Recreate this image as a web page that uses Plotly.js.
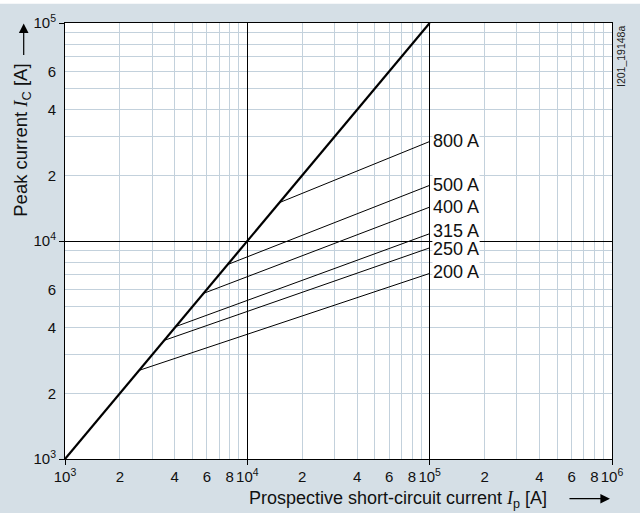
<!DOCTYPE html>
<html>
<head>
<meta charset="utf-8">
<script src="https://cdn.plot.ly/plotly-3.0.1.min.js"></script>
<style>html,body{margin:0;padding:0;background:#d5dfe6;}#chart{width:640px;height:513px;}</style>
</head>
<body>
<div id="chart"></div>
<script>
// ---- data ----
var diagIp = [1e3, 1e5];
var diagIc = [1e3, 1e5];
var ratings = ['800 A', '500 A', '400 A', '315 A', '250 A', '200 A'];
var cutStartIp = [15000, 7800, 5750, 4050, 3500, 2550];
var cutEndIp = [1e5, 1e5, 1e5, 1e5, 1e5, 1e5];
var cutEndIc = [28600, 18000, 14300, 10800, 9300, 7100];

var xTickVals = [1e3,2e3,3e3,4e3,5e3,6e3,7e3,8e3,9e3,1e4,2e4,3e4,4e4,5e4,6e4,7e4,8e4,9e4,1e5,2e5,3e5,4e5,5e5,6e5,7e5,8e5,9e5,1e6];
var xTickText = ['10<sup>3</sup>','2','','4','','6','','8','','10<sup>4</sup>','2','','4','','6','','8','','10<sup>5</sup>','2','','4','','6','','8','','10<sup>6</sup>'];
var yTickVals = [1e3,2e3,3e3,4e3,5e3,6e3,7e3,8e3,9e3,1e4,2e4,3e4,4e4,5e4,6e4,7e4,8e4,9e4,1e5];
var yTickText = ['10<sup>3</sup>','2','','4','','6','','','','10<sup>4</sup>','2','','4','','6','','','','10<sup>5</sup>'];
var xMajor = [1e3, 1e4, 1e5, 1e6];
var yMajor = [1e3, 1e4, 1e5];

var traces = [];
for (var i = 0; i < ratings.length; i++) {
  traces.push({
    type: 'scatter', mode: 'lines',
    x: [cutStartIp[i], cutEndIp[i]],
    y: [cutStartIp[i], cutEndIc[i]],
    line: {color: '#000', width: 1},
    hoverinfo: 'skip', showlegend: false
  });
}
traces.push({
  type: 'scatter', mode: 'lines', x: diagIp, y: diagIc,
  xaxis: 'x2', yaxis: 'y2',
  line: {color: '#000', width: 2.2}, hoverinfo: 'skip', showlegend: false
});

var labelShift = [1, 0, 0, 3, -1, 1];
var annotations = [];
for (var j = ratings.length - 1; j >= 0; j--) {
  annotations.push({
    xref: 'x', yref: 'y', x: Math.log10(cutEndIp[j]), y: Math.log10(cutEndIc[j]),
    text: ratings[j], showarrow: false, xanchor: 'left', yanchor: 'middle',
    xshift: 2, yshift: labelShift[j], bgcolor: '#ffffff', borderpad: 0,
    font: {family: 'Liberation Sans, Arial, sans-serif', size: 18, color: '#111'}
  });
}
var serifI = '<span style="font-family:\'Liberation Serif\',serif"><i>I</i></span>';
annotations.push({
  xref: 'paper', yref: 'paper', x: 0.609, y: -0.092,
  text: 'Prospective short-circuit current ' + serifI + '<sub>p</sub> [A]',
  showarrow: false, xanchor: 'center', yanchor: 'middle',
  font: {family: 'Liberation Sans, Arial, sans-serif', size: 18, color: '#111'}
});
annotations.push({
  xref: 'paper', yref: 'paper', x: -0.0786, y: 0.73, textangle: -90,
  text: 'Peak current ' + serifI + '<sub>C</sub> [A]',
  showarrow: false, xanchor: 'center', yanchor: 'middle',
  font: {family: 'Liberation Sans, Arial, sans-serif', size: 18.5, color: '#111'}
});
// arrows
annotations.push({
  xref: 'paper', yref: 'paper', x: 0.9963, y: -0.091, ax: -42, ay: 0,
  text: '', showarrow: true, arrowhead: 2, arrowsize: 1.6, arrowwidth: 1.2, arrowcolor: '#000'
});
annotations.push({
  xref: 'paper', yref: 'paper', x: -0.0755, y: 0.999, ax: 0, ay: 33,
  text: '', showarrow: true, arrowhead: 2, arrowsize: 1.6, arrowwidth: 1.2, arrowcolor: '#000'
});
annotations.push({
  xref: 'paper', yref: 'paper', x: 1.0164, y: 0.9242, textangle: -90,
  text: 'I201_19148a', showarrow: false, xanchor: 'center', yanchor: 'middle',
  font: {family: 'Liberation Sans, Arial, sans-serif', size: 10.5, color: '#222'}
});

var tickFont = {family: 'Liberation Sans, Arial, sans-serif', size: 15, color: '#111'};
var layout = {
  width: 640, height: 513,
  margin: {l: 65, r: 28, t: 23, b: 54},
  paper_bgcolor: '#d5dfe6', plot_bgcolor: '#ffffff',
  showlegend: false,
  xaxis: {
    type: 'log', range: [3, 6], tickmode: 'array', tickvals: xTickVals, ticktext: xTickText,
    ticks: '', showgrid: true, gridcolor: '#c3d1dc', gridwidth: 1, zeroline: false,
    showline: true, mirror: true, linecolor: '#000', linewidth: 1, tickfont: tickFont,
    tickangle: 0, ticklabelstandoff: 4
  },
  yaxis: {
    type: 'log', range: [3, 5], tickmode: 'array', tickvals: yTickVals, ticktext: yTickText,
    ticks: '', showgrid: true, gridcolor: '#c3d1dc', gridwidth: 1, zeroline: false,
    showline: true, mirror: true, linecolor: '#000', linewidth: 1, tickfont: tickFont,
    ticklabelstandoff: 5
  },
  xaxis2: {
    type: 'log', range: [3, 6], overlaying: 'x', anchor: 'y2', side: 'bottom',
    tickmode: 'array', tickvals: xMajor, ticks: 'outside', ticklen: 5, tickcolor: '#000',
    showticklabels: false, showgrid: true, gridcolor: '#000', gridwidth: 1, zeroline: false, showline: false
  },
  yaxis2: {
    type: 'log', range: [3, 5], overlaying: 'y', anchor: 'x2', side: 'left',
    tickmode: 'array', tickvals: yMajor, ticks: 'outside', ticklen: 5, tickcolor: '#000',
    showticklabels: false, showgrid: true, gridcolor: '#000', gridwidth: 1, zeroline: false, showline: false
  },
  shapes: [{
    type: 'rect', xref: 'paper', yref: 'paper', x0: -0.2, x1: 1.1, y0: 1.0443, y1: 1.06,
    fillcolor: '#ffffff', line: {width: 0}
  }],
  annotations: annotations
};
Plotly.newPlot('chart', traces, layout, {staticPlot: true});
</script>
</body>
</html>
